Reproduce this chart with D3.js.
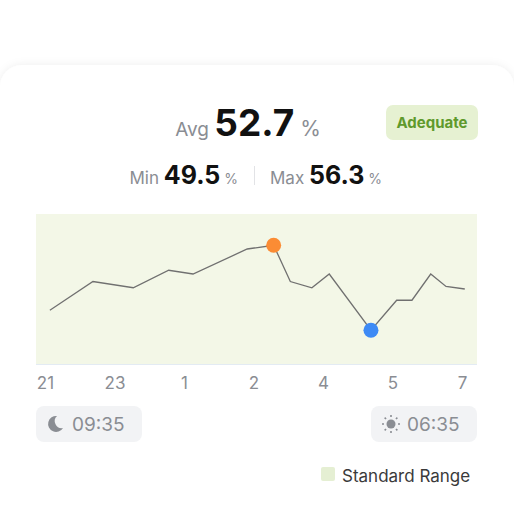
<!DOCTYPE html>
<html><head><meta charset="utf-8">
<script src="https://cdn.jsdelivr.net/npm/d3@7"></script>
<style>
body{margin:0;background:#fff;font-family:Inter,"Noto Sans",sans-serif;}
</style></head><body>
<svg id="chart" width="514" height="526"></svg>
<script>
const tickLabels = ["21", "23", "1", "2", "4", "5", "7"];
const pointPos = [0.07, 0.69, 1.27, 1.78, 2.13, 2.91, 3.29, 3.53, 3.84, 4.09, 4.69, 5.06, 5.28, 5.55, 5.77, 6.04];
const pointVal = [51.1, 53.4, 52.9, 54.3, 54.0, 56.0, 56.3, 53.4, 52.9, 54.0, 49.5, 51.9, 51.9, 54.0, 53.0, 52.8];
const avg = 52.7, minV = 49.5, maxV = 56.3;
const sleepTime = "09:35", wakeTime = "06:35";

const svg = d3.select("#chart");
const defs = svg.append("defs");
const f = defs.append("filter").attr("id", "sh").attr("x", "-10%").attr("y", "-10%").attr("width", "120%").attr("height", "120%");
f.append("feDropShadow").attr("dx", 0).attr("dy", 0).attr("stdDeviation", 4).attr("flood-color", "#000").attr("flood-opacity", 0.07);

svg.append("rect").attr("x", 0).attr("y", 65).attr("width", 514).attr("height", 490)
  .attr("rx", 22).attr("fill", "#fff").attr("filter", "url(#sh)");

// Header
const head = svg.append("text").attr("y", 136).attr("text-anchor", "middle").attr("x", 248);
head.append("tspan").text("Avg ").attr("fill", "#8a8d93").attr("font-size", 19);
head.append("tspan").text(avg.toFixed(1)).attr("fill", "#111").attr("font-size", 37).attr("font-weight", 700);
head.append("tspan").text(" %").attr("fill", "#8a8d93").attr("font-size", 21);

svg.append("rect").attr("x", 386).attr("y", 105).attr("width", 92).attr("height", 35).attr("rx", 7).attr("fill", "#e6f1d2");
svg.append("text").attr("x", 432).attr("y", 128).attr("text-anchor", "middle").attr("font-size", 15)
  .attr("font-weight", 700).attr("fill", "#5f9a2c").text("Adequate");

function stat(x, anchor, label, v) {
  const t = svg.append("text").attr("x", x).attr("y", 184).attr("text-anchor", anchor);
  t.append("tspan").text(label + " ").attr("fill", "#8a8d93").attr("font-size", 17);
  t.append("tspan").text(v.toFixed(1)).attr("fill", "#111").attr("font-size", 25).attr("font-weight", 700);
  t.append("tspan").text(" %").attr("fill", "#8a8d93").attr("font-size", 14);
}
stat(238, "end", "Min", minV);
stat(270, "start", "Max", maxV);
svg.append("line").attr("x1", 254.5).attr("x2", 254.5).attr("y1", 166).attr("y2", 185).attr("stroke", "#e2e3e6");

// Chart
const x0 = 36, x1 = 477, yTop = 214, yBot = 364;
const x = d3.scaleLinear().domain([0, 6]).range([45, 462]);
const y = d3.scaleLinear().domain([46.8, 58.8]).range([yBot, yTop]);

svg.append("rect").attr("x", x0).attr("y", yTop).attr("width", x1 - x0).attr("height", yBot - yTop).attr("fill", "#f3f7e7");
svg.append("line").attr("x1", x0).attr("x2", x1).attr("y1", yBot + 0.5).attr("y2", yBot + 0.5).attr("stroke", "#e3ebf3");

const pts = pointPos.map((p, i) => [p, pointVal[i]]);
svg.append("path").datum(pts).attr("fill", "none").attr("stroke", "#707070").attr("stroke-width", 1.3)
  .attr("d", d3.line().x(d => x(d[0])).y(d => y(d[1])));

const iMax = d3.maxIndex(pointVal), iMin = d3.minIndex(pointVal);
svg.append("circle").attr("cx", x(pointPos[iMax])).attr("cy", y(pointVal[iMax])).attr("r", 7.5).attr("fill", "#fb8c34");
svg.append("circle").attr("cx", x(pointPos[iMin])).attr("cy", y(pointVal[iMin])).attr("r", 7.5).attr("fill", "#3d8af5");

const ax = svg.append("g").attr("transform", `translate(0,${yBot})`)
  .call(d3.axisBottom(x).tickValues(d3.range(tickLabels.length)).tickFormat(i => tickLabels[i]).tickSize(0).tickPadding(13));
ax.select(".domain").remove();
ax.selectAll("text").attr("font-size", 17).attr("fill", "#8a8d93").attr("font-family", "Inter,'Noto Sans',sans-serif");

// Pills
function pill(px, label, icon) {
  svg.append("rect").attr("x", px).attr("y", 406).attr("width", 106).attr("height", 36).attr("rx", 8).attr("fill", "#f2f3f5");
  const g = svg.append("g").attr("transform", `translate(${px + 20},424)`).attr("fill", "#8a8d93");
  if (icon === "moon") {
    g.append("path").attr("d", "M2,-8 A8,8 0 1,0 8,4 A7,7 0 0,1 2,-8Z").attr("transform", "translate(-1,0)");
  } else {
    g.append("circle").attr("r", 4.5);
    d3.range(8).forEach(k => {
      const a = k * Math.PI / 4;
      g.append("line").attr("x1", Math.cos(a) * 7).attr("y1", Math.sin(a) * 7)
        .attr("x2", Math.cos(a) * 9).attr("y2", Math.sin(a) * 9).attr("stroke", "#8a8d93").attr("stroke-width", 1.6);
    });
  }
  svg.append("text").attr("x", px + 36).attr("y", 431).attr("font-size", 19).attr("fill", "#8a8d93").text(label);
}
pill(36, sleepTime, "moon");
pill(371, wakeTime, "sun");

// Legend
svg.append("rect").attr("x", 321).attr("y", 467).attr("width", 14).attr("height", 14).attr("rx", 2).attr("fill", "#e5efd3");
svg.append("text").attr("x", 342).attr("y", 482).attr("font-size", 17).attr("fill", "#3a3a3a").text("Standard Range");
</script>
</body></html>
